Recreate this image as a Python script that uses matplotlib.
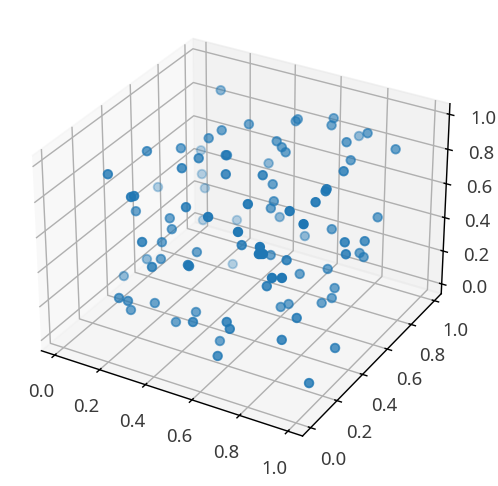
import matplotlib
matplotlib.use("Agg")
import matplotlib.pyplot as plt

plt.rcParams['font.family'] = ['Noto Sans', 'DejaVu Sans']

x = [.217, .386, .362, .281, .053, .233, .424, .497, .410, .204,
     .080, .570, -.029, .104, .336, .349, .196, .488, .311, .656,
     .127, .329, .449, .587, .588, .699, .719, .864, .700, .830,
     .971, .584, .603, .621, .836, .441, .925, .501, .688, .611,
     .935, .939, .946, .747, .629, .626, .898, .529, .975, .243,
     .981, .840, .776, .630, 1.011, 1.029, .380, .310, .693, .862,
     .867, .876, .861, .667, .847, .430, .132, .321, .419, .569,
     .573, .280, .072, .913, .952, .808, .275, .311, .272, .342,
     .749, .770, .481, .428, .587, .716, .731, .584, .902, .690,
     1.028, .950, .968, .778, .862, .903, .902, .875, .928, 1.028,
     1.025]
y = [.805, .525, .471, .406, .926, .248, .296, .365, .201, .030,
     .887, .241, .733, .869, -.025, -.025, .221, .099, .272, -.028,
     .814, .256, .617, .743, .725, .817, .763, .774, 1.026, .673,
     .795, .588, .593, .590, .698, .782, .472, .367, .301, .512,
     .325, .310, .223, .092, .489, .472, .122, .714, .656, .881,
     .072, .551, -.027, .731, .327, .449, -.028, .216, .142, -.024,
     -.025, -.027, -.029, .400, .196, .266, .389, .189, -.027, -.025,
     -.024, .784, .317, -.028, -.027, .122, -.029, -.025, .053, .108,
     .332, .354, .171, .115, -.025, -.005, -.009, .169, .066, -.026,
     .305, .566, .564, .422, .483, .463, .444, .416, .128, .237,
     .048]
z = [.999, .999, .979, .934, .514, .999, .999, .999, .999, .999,
     .405, .999, .385, .340, .959, .969, .664, .879, .634, .974,
     .190, .589, .999, .999, .999, .999, .999, .999, .769, .999,
     .934, .969, .939, .919, .884, .669, .999, .999, .999, .784,
     .999, .999, .999, .999, .709, .679, .999, .430, .639, .190,
     .994, .589, .939, .345, .734, .664, .729, .534, .719, .889,
     .854, .859, .854, .475, .659, .490, .245, .460, .604, .674,
     .669, .000, .170, .744, .759, .549, .370, .365, .240, .270,
     .255, .265, .230, .190, .360, .400, .370, .105, .325, .210,
     .689, .485, .470, .395, .415, .335, .290, .270, .415, .205,
     .145]

W, H = 498, 486
dpi = 127

fig = plt.figure(figsize=(W / dpi, H / dpi), dpi=dpi)
ax = fig.add_axes([6.92 / W, 20.25 / H, 463.7 / W, 463.7 / H], projection='3d')
ax.set_box_aspect((4, 4, 2.97))
ax.scatter(x, y, z, s=24)
ax.set_xlim(-0.06, 1.06)
ax.set_ylim(-0.06, 1.06)
ax.set_zlim(-0.06, 1.06)
ax.tick_params(labelsize=10.5, labelcolor='#3a3a3a')
fig.savefig('out.png', dpi=dpi)
